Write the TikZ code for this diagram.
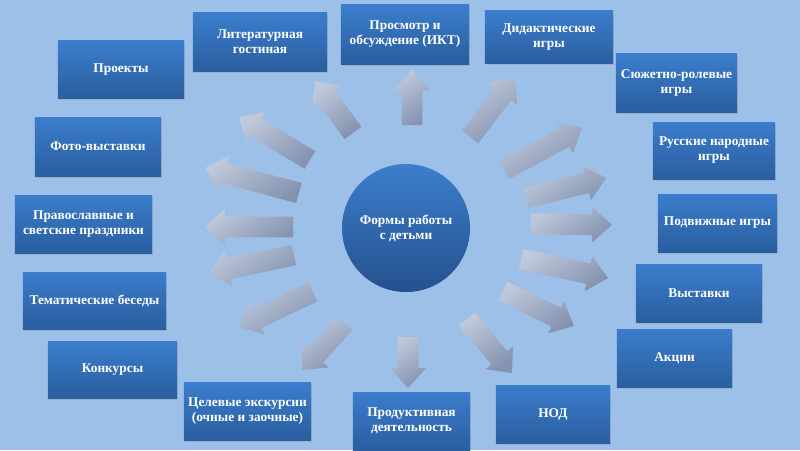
\documentclass[tikz,border=0pt]{standalone}
\usepackage{fontspec}
\setmainfont{Liberation Serif}
\usetikzlibrary{calc,shadows}
\definecolor{bg}{HTML}{9DC0E9}
\definecolor{boxtop}{HTML}{3B7DCC}
\definecolor{boxbot}{HTML}{2A5E9F}
\definecolor{circtop}{HTML}{3D7ECC}
\definecolor{circbot}{HTML}{24518E}
\definecolor{arrlight}{HTML}{BFC9DB}
\definecolor{arrdark}{HTML}{8593B0}

\begin{document}
\begin{tikzpicture}[x=0.025cm, y=-0.025cm, every node/.style={font=\fontsize{9.5}{10.7}\selectfont\bfseries}]
			\tikzstyle{box}=[rectangle, top color=boxtop, bottom color=boxbot, text=white, align=center, inner sep=1pt, minimum height=1.45cm, drop shadow={opacity=0.25,shadow xshift=0.02cm,shadow yshift=-0.04cm}]
			\tikzstyle{flow}=[top color=arrlight, bottom color=arrdark, shading angle=35]
			\path[use as bounding box, fill=bg] (0,0) rectangle (800,450);
			
			\node[circle, minimum size=3.2cm, top color=circtop, bottom color=circbot, text=white, align=center](formy) at (406,228){Формы работы\\с детьми};
			
			\node[box, minimum width=3.15cm, minimum height=1.425cm](proekty) at (121,69.5){Проекты};
			\node[box, minimum width=3.35cm](litgost) at (260,42){Литературная\\гостиная};
			\node[box, minimum width=3.2cm, minimum height=1.475cm](prosmotr) at (405,34.5){Просмотр и\\обсуждение (ИКТ)};
			\node[box, minimum width=3.2cm, minimum height=1.3cm](didakt) at (549,37){Дидактические\\игры};
			\node[box, minimum width=3.025cm](syuzhet) at (676.5,83){Сюжетно-ролевые\\игры};
			\node[box, minimum width=3.05cm, minimum height=1.425cm](russkie) at (714,150.5){Русские народные\\игры};
			\node[box, minimum width=2.975cm](podvizh) at (717.5,223){Подвижные игры};
			\node[box, minimum width=3.15cm](vystavki) at (699,293){Выставки};
			\node[box, minimum width=2.875cm](akcii) at (674.5,358){Акции};
			\node[box, minimum width=2.85cm](nod) at (553,414){НОД};
			\node[box, minimum width=2.925cm](produkt) at (411.5,421){Продуктивная\\деятельность};
			\node[box, minimum width=3.175cm](celevye) at (247.5,411){Целевые экскурсии\\(очные и  заочные)};
			\node[box, minimum width=3.225cm, minimum height=1.425cm](konkursy) at (112.5,369.5){Конкурсы};
			\node[box, minimum width=3.575cm, minimum height=1.425cm](tematich) at (94.5,300.5){Тематические беседы};
			\node[box, minimum width=3.425cm](pravosl) at (83.5,224){Православные и\\светские  праздники};
			\node[box, minimum width=3.15cm, minimum height=1.475cm](foto) at (98,146.5){Фото-выставки};
			
			% block arrows: tail (t) and tip (h)
			\foreach \n/\tx/\ty/\hx/\hy in {1/353/133/315/81, 2/310/160/239/117, 3/299/193/205/168, 4/293/227/205/227,
				5/294/255/209/273, 6/313/292/239/327, 7/345/323/302/370, 8/408/337/408/388,
				9/412/125/412/70, 10/470/137/515/78, 11/504/170/582/128, 12/526/198/606/178,
				13/531/224/612/225, 14/521/259/608/278, 15/503/291/574/326, 16/467/319/512/373}{
				\coordinate (t\n) at (\tx,\ty);
				\coordinate (h\n) at (\hx,\hy);
				\coordinate (n\n) at ($(h\n)!0.5cm!(t\n)$);
				\shade[flow] ($(t\n)!0.26cm!90:(h\n)$) -- ($(n\n)!0.26cm!90:(h\n)$) -- ($(n\n)!0.45cm!90:(h\n)$) -- (h\n)
				-- ($(n\n)!0.45cm!-90:(h\n)$) -- ($(n\n)!0.26cm!-90:(h\n)$) -- ($(t\n)!0.26cm!-90:(h\n)$) -- cycle;
			};
\end{tikzpicture}
\end{document}
